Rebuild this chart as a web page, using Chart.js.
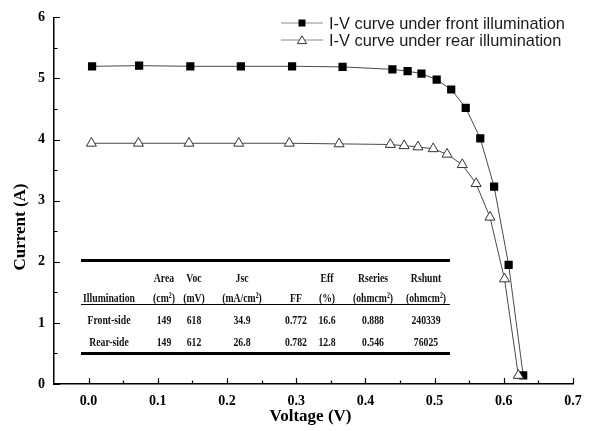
<!DOCTYPE html>
<html><head><meta charset="utf-8">
<script src="https://cdn.jsdelivr.net/npm/chart.js@4.4.0/dist/chart.umd.min.js"></script>
<style>
html,body{margin:0;padding:0;background:#fff;}
#wrap{position:relative;width:591px;height:431px;overflow:hidden;background:#fff;}
canvas{position:absolute;left:0;top:0;}
.lg{position:absolute;font-family:"Liberation Sans",Arial,sans-serif;font-size:16.4px;color:#1a1a1a;white-space:nowrap;line-height:16px;}
.lgs{position:absolute;}
.tc{position:absolute;font-family:"Liberation Serif","Times New Roman",serif;font-weight:bold;font-size:13.5px;color:#111;white-space:nowrap;transform:translate(-50%,-50%) scaleX(0.72);line-height:14px;}
.hl{position:absolute;background:#000;}
</style></head><body>
<div id="wrap"><canvas id="c" width="591" height="431"></canvas></div>
<script>
// ---- data ----
const voltageFront = [0.005,0.073,0.147,0.220,0.294,0.367,0.439,0.461,0.481,0.503,0.524,0.545,0.566,0.586,0.607,0.628];
const currentFront = [5.20,5.21,5.20,5.20,5.20,5.19,5.15,5.12,5.08,4.98,4.82,4.52,4.02,3.23,1.95,0.14];
const voltageRear  = [0.004,0.072,0.145,0.217,0.290,0.362,0.436,0.456,0.476,0.498,0.518,0.540,0.560,0.580,0.601,0.621];
const currentRear  = [3.94,3.94,3.94,3.94,3.94,3.93,3.92,3.90,3.88,3.85,3.76,3.59,3.28,2.73,1.72,0.14];
const seriesNames = ['I-V curve under front illumination','I-V curve under rear illumination'];
const xTickValues = [0.0,0.1,0.2,0.3,0.4,0.5,0.6,0.7];
const xMinorTicks = [0.05,0.15,0.25,0.35,0.45,0.55,0.65];
const yTickValues = [0,1,2,3,4,5,6];
const yMinorTicks = [0.5,1.5,2.5,3.5,4.5,5.5];
const xTitle = 'Voltage (V)';
const yTitle = 'Current (A)';
const tableHeader1 = ['','Area','Voc','Jsc','','Eff','Rseries','Rshunt'];
const tableHeader2 = ['Illumination','(cm²)','(mV)','(mA/cm²)','FF','(%)','(ohmcm²)','(ohmcm²)'];
const tableRowFront = ['Front-side','149','618','34.9','0.772','16.6','0.888','240339'];
const tableRowRear  = ['Rear-side','149','612','26.8','0.782','12.8','0.546','76025'];

// ---- table & legend (HTML text) ----
const wrap = document.getElementById('wrap');
const colX = [109,164,194,242,296,327,373,426];
const rowY = [278,298,320,342];
[tableHeader1,tableHeader2,tableRowFront,tableRowRear].forEach((row,r)=>{
  row.forEach((t,c)=>{
    if(!t) return;
    const d=document.createElement('div');d.className='tc';d.textContent=t;
    d.style.left=colX[c]+'px';d.style.top=rowY[r]+'px';wrap.appendChild(d);
  });
});
function hline(y,h){const d=document.createElement('div');d.className='hl';d.style.left='81px';d.style.width='369px';d.style.top=y+'px';d.style.height=h+'px';wrap.appendChild(d);}
hline(259,3);hline(303.5,1.2);hline(351.5,3);

function legendRow(cy,name,sym){
  const s=document.createElementNS('http://www.w3.org/2000/svg','svg');
  s.setAttribute('width','44');s.setAttribute('height','16');s.setAttribute('class','lgs');
  s.style.left='281px';s.style.top=(cy-8)+'px';
  s.innerHTML='<line x1="0" y1="8" x2="42" y2="8" stroke="#8a8a8a" stroke-width="1"/>'+sym;
  wrap.appendChild(s);
  const t=document.createElement('div');t.className='lg';t.textContent=name;
  t.style.left='329px';t.style.top=(cy-8)+'px';wrap.appendChild(t);
}
legendRow(22.5,seriesNames[0],'<rect x="17.5" y="4.5" width="7" height="7" fill="#000"/>');
legendRow(39.5,seriesNames[1],'<polygon points="21,3.8 25.6,11.6 16.4,11.6" fill="#fff" stroke="#333" stroke-width="1"/>');

// ---- chart ----
const innerTicks = {
  id:'innerTicks',
  afterDraw(chart){
    const c=chart.ctx, xs=chart.scales.x, ys=chart.scales.y, a=chart.chartArea;
    c.save();c.strokeStyle='#000';c.lineWidth=1.2;c.beginPath();
    xTickValues.forEach(v=>{const p=Math.round(xs.getPixelForValue(v))+0.5;c.moveTo(p,a.bottom);c.lineTo(p,a.bottom-6);});
    xMinorTicks.forEach(v=>{const p=Math.round(xs.getPixelForValue(v))+0.5;c.moveTo(p,a.bottom);c.lineTo(p,a.bottom-3.5);});
    yTickValues.forEach(v=>{const p=Math.round(ys.getPixelForValue(v))+0.5;c.moveTo(a.left,p);c.lineTo(a.left+6,p);});
    yMinorTicks.forEach(v=>{const p=Math.round(ys.getPixelForValue(v))+0.5;c.moveTo(a.left,p);c.lineTo(a.left+3.5,p);});
    c.stroke();
    c.fillStyle='#000';c.font='bold 17px "Liberation Serif", serif';c.textAlign='center';c.textBaseline='middle';
    c.fillText(xTitle,(a.left+a.right)/2-3,417);
    c.translate(21,227);c.rotate(-Math.PI/2);c.fillText(yTitle,0,0);
    c.restore();
  }
};
const tickFont={family:'"Liberation Serif", serif',weight:'bold',size:14};
new Chart(document.getElementById('c'),{
  type:'scatter',
  data:{datasets:[
    {label:seriesNames[1],data:voltageRear.map((v,i)=>({x:v,y:currentRear[i]})),showLine:true,borderColor:'#4a4a4a',borderWidth:1,
     pointStyle:'triangle',pointRadius:5.8,pointBackgroundColor:'#fff',pointBorderColor:'#333',pointBorderWidth:1,tension:0},
    {label:seriesNames[0],data:voltageFront.map((v,i)=>({x:v,y:currentFront[i]})),showLine:true,borderColor:'#4a4a4a',borderWidth:1,
     pointStyle:'rect',pointRadius:5.8,pointBackgroundColor:'#000',pointBorderColor:'#000',pointBorderWidth:0,tension:0}
  ]},
  options:{
    responsive:false,animation:false,devicePixelRatio:1,
    layout:{padding:{top:16,right:18,left:0,bottom:0}},
    plugins:{legend:{display:false},tooltip:{enabled:false}},
    scales:{
      x:{type:'linear',min:-0.05,max:0.7,
        afterBuildTicks:s=>{s.ticks=xTickValues.map(v=>({value:v}));},
        afterFit:s=>{s.height=47;},
        grid:{display:false,drawTicks:false},
        border:{display:true,color:'#000',width:1.5},
        ticks:{padding:9,color:'#000',font:tickFont,maxRotation:0,autoSkip:false,callback:v=>Number(v).toFixed(1)}},
      y:{type:'linear',min:0,max:6,
        afterBuildTicks:s=>{s.ticks=yTickValues.map(v=>({value:v}));},
        afterFit:s=>{s.width=54;},
        grid:{display:false,drawTicks:false},
        border:{display:true,color:'#000',width:1.5},
        ticks:{padding:9,color:'#000',font:tickFont,callback:v=>String(v)}}
    }
  },
  plugins:[innerTicks]
});
</script>
</body></html>
